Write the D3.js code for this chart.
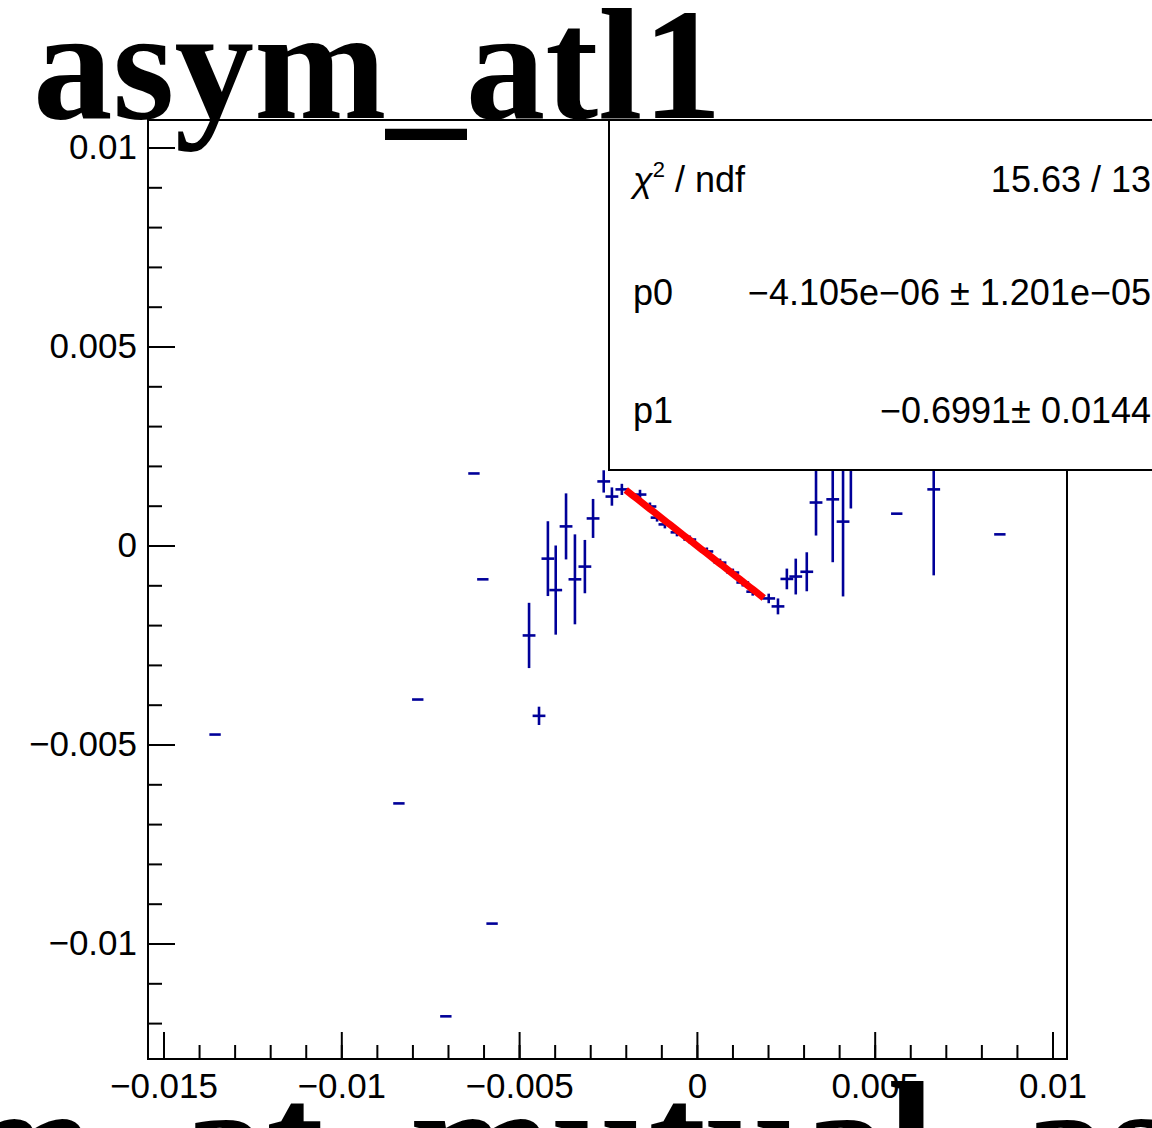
<!DOCTYPE html>
<html>
<head>
<meta charset="utf-8">
<script src="https://cdn.jsdelivr.net/npm/d3@7"></script>
<style>
  html, body { margin: 0; padding: 0; background: #fff; }
  svg { display: block; }
</style>
</head>
<body>
<script>
// ---------------- data ----------------
const titleText = "asym_atl1";
const xTitleText = "asym_at_mutual_asym";

// x values (units of 1e-3)
const xVals = [-13.55, -8.38, -7.85, -7.06, -6.27, -6.02, -5.76, -4.72, -4.44, -4.19,
  -3.97, -3.68, -3.43, -3.15, -2.92, -2.62, -2.39, -2.11, -1.60, -1.32,
  -1.12, -0.90, -0.56, -0.20, 0.28, 0.65, 1.01, 1.29, 1.57, 2.02,
  2.28, 2.53, 2.78, 3.09, 3.35, 3.82, 4.11, 4.33, 5.62, 6.66, 8.52];
// y values (units of 1e-3)
const yVals = [-4.75, -6.48, -3.87, -11.83, 1.81, -0.85, -9.50, -2.26, -4.28, -0.33,
  -1.12, 0.48, -0.85, -0.53, 0.68, 1.61, 1.23, 1.41, 1.28, 0.98,
  0.70, 0.53, 0.33, 0.15, -0.15, -0.43, -0.68, -0.93, -1.16, -1.33,
  -1.53, -0.84, -0.78, -0.66, 1.08, 1.16, 0.60, 2.29, 0.80, 1.41, 0.28];
// y errors (units of 1e-3)
const eyVals = [0, 0, 0, 0, 0, 0, 0, 0.82, 0.23, 0.94,
  1.12, 0.83, 1.13, 0.67, 0.49, 0.28, 0.23, 0.14, 0.12, 0.10,
  0.10, 0.10, 0.10, 0.10, 0.10, 0.10, 0.10, 0.10, 0.10, 0.12,
  0.20, 0.26, 0.45, 0.49, 0.83, 1.58, 1.88, 1.36, 0, 2.16, 0];
// x errors (units of 1e-3)
const exVals = [0.16, 0.16, 0.16, 0.16, 0.16, 0.16, 0.16, 0.18, 0.18, 0.18,
  0.18, 0.18, 0.18, 0.18, 0.18, 0.18, 0.18, 0.18, 0.18, 0.18,
  0.18, 0.18, 0.18, 0.18, 0.18, 0.18, 0.18, 0.18, 0.18, 0.18,
  0.18, 0.18, 0.18, 0.18, 0.18, 0.18, 0.18, 0.18, 0.16, 0.18, 0.16];

// fit: y = p0 + p1*x over fit range
const fitP0 = -4.105e-06;
const fitP1 = -0.6991;
const fitRange = [-0.00200, 0.00188];

// stat box lines
const statLabels = ["ndf", "p0", "p1"];
const statValues = ["15.63 / 13", "\u22124.105e\u221206 \u00b1 1.201e\u221205", "\u22120.6991\u00b1 0.0144"];

// axes
const xDomain = [-0.015436, 0.010408];
const yDomain = [-0.012902, 0.010691];
const xMajorTicks = [-0.015, -0.01, -0.005, 0, 0.005, 0.01];
const xTickLabels = ["\u22120.015", "\u22120.01", "\u22120.005", "0", "0.005", "0.01"];
const yMajorTicks = [-0.01, -0.005, 0, 0.005, 0.01];
const yTickLabels = ["\u22120.01", "\u22120.005", "0", "0.005", "0.01"];
const xMinorTicks = d3.range(-15, 11).map(d => d / 1000);
const yMinorTicks = d3.range(-12, 11).map(d => d / 1000);

// ---------------- layout ----------------
const W = 1152, H = 1128;
const frame = { left: 148, top: 120, right: 1067, bottom: 1059 };
const blue = "#000099";
const sans = "'Liberation Sans', Arial, Helvetica, sans-serif";
const serif = "'Liberation Serif', 'Times New Roman', Times, serif";

const svg = d3.select("body").append("svg")
  .attr("width", W).attr("height", H)
  .attr("viewBox", `0 0 ${W} ${H}`);
svg.append("rect").attr("width", W).attr("height", H).attr("fill", "#fff");

const x = d3.scaleLinear().domain(xDomain).range([frame.left, frame.right]);
const y = d3.scaleLinear().domain(yDomain).range([frame.bottom, frame.top]);

// frame
svg.append("rect")
  .attr("x", frame.left).attr("y", frame.top)
  .attr("width", frame.right - frame.left).attr("height", frame.bottom - frame.top)
  .attr("fill", "none").attr("stroke", "#000").attr("stroke-width", 2);

// axes
function styleAxis(g) {
  g.select(".domain").remove();
  g.selectAll(".tick line").attr("stroke", "#000").attr("stroke-width", 2);
  g.selectAll(".tick text").attr("font-family", sans).attr("font-size", 35).attr("fill", "#000");
}
const xMinorAxis = d3.axisBottom(x).tickValues(xMinorTicks).tickSizeInner(-14).tickSizeOuter(0).tickFormat("");
svg.append("g").attr("transform", `translate(0,${frame.bottom})`).call(xMinorAxis).call(styleAxis);
const xAxis = d3.axisBottom(x).tickValues(xMajorTicks).tickSizeInner(-27).tickSizeOuter(0).tickPadding(14)
  .tickFormat((d, i) => xTickLabels[i]);
svg.append("g").attr("transform", `translate(0,${frame.bottom})`).call(xAxis).call(styleAxis);

const yMinorAxis = d3.axisLeft(y).tickValues(yMinorTicks).tickSizeInner(-14).tickSizeOuter(0).tickFormat("");
svg.append("g").attr("transform", `translate(${frame.left},0)`).call(yMinorAxis).call(styleAxis);
const yAxis = d3.axisLeft(y).tickValues(yMajorTicks).tickSizeInner(-27).tickSizeOuter(0).tickPadding(11)
  .tickFormat((d, i) => yTickLabels[i]);
svg.append("g").attr("transform", `translate(${frame.left},0)`).call(yAxis).call(styleAxis);

// data points with error bars
const pts = xVals.map((xv, i) => ({ x: xv / 1000, y: yVals[i] / 1000, ex: exVals[i] / 1000, ey: eyVals[i] / 1000 }));
const gPts = svg.append("g").attr("stroke", blue).attr("stroke-width", 2.6).attr("fill", "none");
pts.forEach(p => {
  gPts.append("line")
    .attr("x1", x(p.x - p.ex)).attr("x2", x(p.x + p.ex))
    .attr("y1", y(p.y)).attr("y2", y(p.y));
  if (p.ey > 0) {
    gPts.append("line")
      .attr("x1", x(p.x)).attr("x2", x(p.x))
      .attr("y1", y(p.y - p.ey)).attr("y2", y(p.y + p.ey));
  }
});

// fit line
const fitX = d3.range(0, 41).map(i => fitRange[0] + (fitRange[1] - fitRange[0]) * i / 40);
const fitLine = d3.line().x(d => x(d)).y(d => y(fitP0 + fitP1 * d));
svg.append("path").datum(fitX)
  .attr("d", fitLine)
  .attr("fill", "none").attr("stroke", "#ff0000").attr("stroke-width", 7);

// stat box
const box = { x: 609, y: 120, w: 620, h: 350 };
svg.append("rect")
  .attr("x", box.x).attr("y", box.y).attr("width", box.w).attr("height", box.h)
  .attr("fill", "#fff").attr("stroke", "#000").attr("stroke-width", 2);
const rowY = [192, 305, 423];
const chi = svg.append("text").attr("x", 633).attr("y", rowY[0])
  .attr("font-family", sans).attr("font-size", 36).attr("fill", "#000");
chi.append("tspan").attr("font-style", "italic").text("\u03c7");
chi.append("tspan").attr("font-size", 22).attr("dy", -15).text("2");
chi.append("tspan").attr("dy", 15).text(" / " + statLabels[0]);
[1, 2].forEach(i => {
  svg.append("text").attr("x", 633).attr("y", rowY[i])
    .attr("font-family", sans).attr("font-size", 36).attr("fill", "#000")
    .text(statLabels[i]);
});
statValues.forEach((v, i) => {
  svg.append("text").attr("x", 1151).attr("y", rowY[i])
    .attr("text-anchor", "end")
    .attr("font-family", sans).attr("font-size", 36).attr("fill", "#000")
    .text(v);
});

// title
svg.append("text").attr("x", 33).attr("y", 118)
  .attr("font-family", serif).attr("font-weight", "bold").attr("font-size", 159)
  .attr("fill", "#000").text(titleText);

// x-axis title (huge, mostly off-canvas)
svg.append("text").attr("x", -288).attr("y", 1200)
  .attr("font-family", serif).attr("font-weight", "bold").attr("font-size", 172)
  .attr("fill", "#000").text(xTitleText);
</script>
</body>
</html>
